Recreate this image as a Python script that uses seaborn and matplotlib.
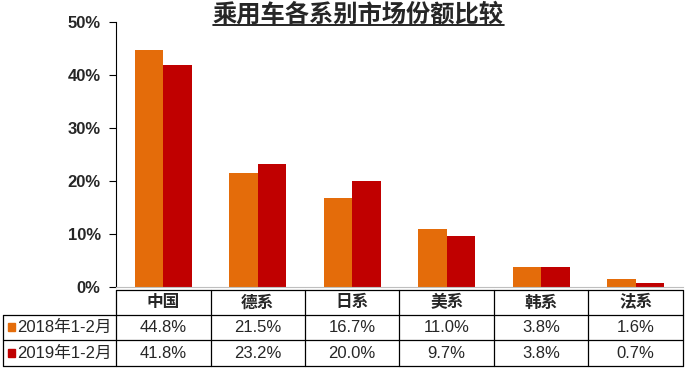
import pandas as pd
import seaborn as sns
import matplotlib.pyplot as plt
import matplotlib.transforms as mtransforms
from matplotlib.lines import Line2D
from matplotlib.patches import Rectangle

# Datos
categorias = ['中国', '德系', '日系', '美系', '韩系', '法系']
series = ['2018年1-2月', '2019年1-2月']
valores_2018 = [44.8, 21.5, 16.7, 11.0, 3.8, 1.6]
valores_2019 = [41.8, 23.2, 20.0, 9.7, 3.8, 0.7]
colores = ['#E46C0A', '#C00000']
titulo = '乘用车各系别市场份额比较'

data = pd.DataFrame({
    'Categoria': categorias * 2,
    'Serie': [series[0]] * 6 + [series[1]] * 6,
    'Valor': valores_2018 + valores_2019,
})

sns.set_style('white')
plt.rcParams['font.family'] = ['Liberation Sans', 'Noto Sans CJK SC', 'DejaVu Sans']

W, H = 685, 370
fig = plt.figure(figsize=(6.85, 3.7), dpi=100)
ax = fig.add_axes([116 / W, 1 - 287 / H, (683 - 116) / W, (287 - 22) / H])

sns.barplot(data=data, x='Categoria', y='Valor', hue='Serie', order=categorias,
            hue_order=series, palette=colores, width=0.6, saturation=1,
            linewidth=0, legend=False, ax=ax)

ax.set_xlim(-0.5, 5.5)
ax.set_ylim(0, 50)
ax.set_yticks(range(0, 51, 10))
ax.set_yticklabels([f'{v}%' for v in range(0, 51, 10)], fontsize=12, fontweight='bold')
ax.set_xticks([])
ax.set_xlabel('')
ax.set_ylabel('')
ax.tick_params(axis='y', direction='out', length=5, width=0.8, color='black', pad=6, left=True)
for s in ['top', 'right']:
    ax.spines[s].set_visible(False)
ax.spines['left'].set_color('black')
ax.spines['left'].set_linewidth(0.8)
ax.spines['bottom'].set_color('#bfbfbf')
ax.spines['bottom'].set_linewidth(0.8)

# Título subrayado
fig.text(358 / W, 1 - 15 / H, titulo, ha='center', va='center', fontsize=17.5,
         fontweight='bold', family=['Noto Sans CJK SC'])
fig.add_artist(Line2D([213 / W, 504 / W], [1 - 25 / H] * 2, color='black', lw=1.2))

# Tabla de datos
tr = mtransforms.blended_transform_factory(ax.transData, fig.transFigure)
y_top, y1, y2, y_bot = [1 - v / H for v in (290, 315, 340, 366)]
x_ini = 3 / W
lk = dict(color='black', lw=0.9, clip_on=False)

fig.add_artist(Line2D([-0.5, 5.5], [y_top, y_top], transform=tr, **lk))
for yy in (y1, y2, y_bot):
    fig.add_artist(Line2D([x_ini, 683 / W], [yy, yy], **lk))
fig.add_artist(Line2D([x_ini, x_ini], [y1, y_bot], **lk))
for i in range(7):
    fig.add_artist(Line2D([i - 0.5, i - 0.5], [y_top, y_bot], transform=tr, **lk))

for i, cat in enumerate(categorias):
    fig.text(i, (y_top + y1) / 2, cat, transform=tr, ha='center', va='center',
             fontsize=12, fontweight='bold', family=['Noto Sans CJK SC'])
    fig.text(i, (y1 + y2) / 2, f'{valores_2018[i]:.1f}%', transform=tr,
             ha='center', va='center', fontsize=12)
    fig.text(i, (y2 + y_bot) / 2, f'{valores_2019[i]:.1f}%', transform=tr,
             ha='center', va='center', fontsize=12)

for j, (serie, yy0, yy1) in enumerate([(series[0], y1, y2), (series[1], y2, y_bot)]):
    yc = (yy0 + yy1) / 2
    fig.add_artist(Rectangle((8 / W, yc - 3.5 / H), 7 / W, 8 / H, color=colores[j]))
    fig.text(17 / W, yc, serie, ha='left', va='center', fontsize=12,
             family=['Liberation Sans', 'Noto Sans CJK SC'])

fig.savefig('out.png', dpi=100)
